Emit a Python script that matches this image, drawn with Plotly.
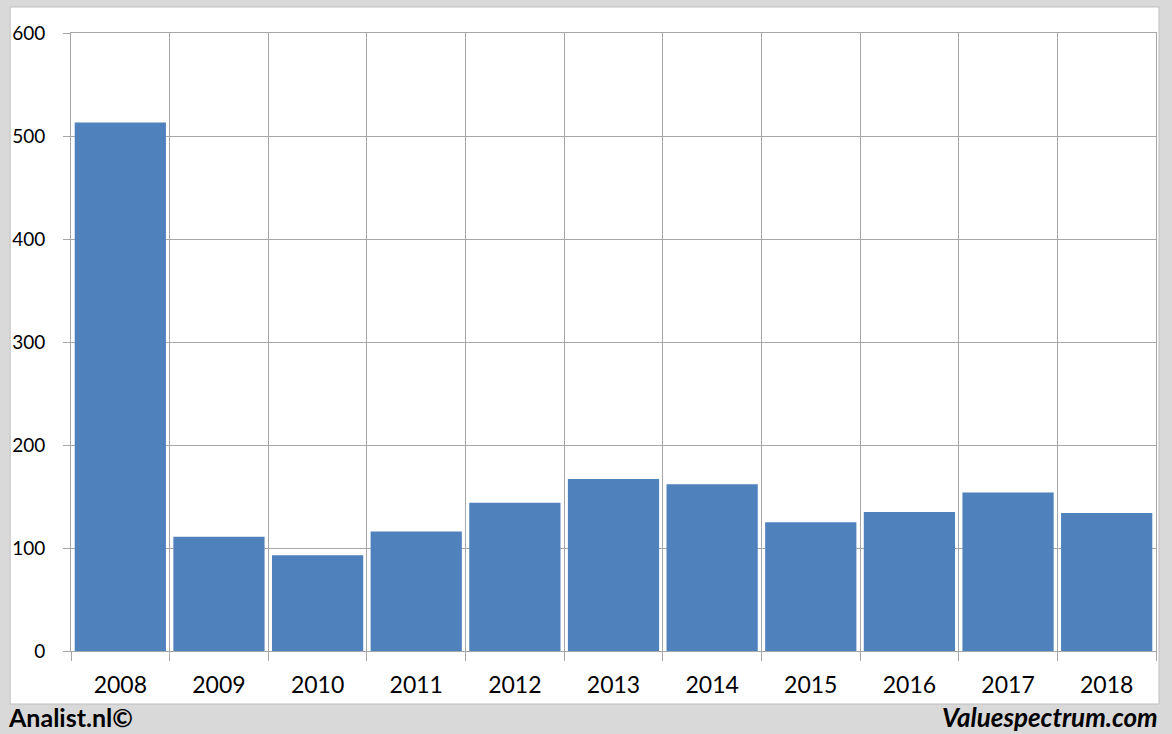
import plotly.graph_objects as go

years = ["2008", "2009", "2010", "2011", "2012", "2013", "2014", "2015", "2016", "2017", "2018"]
values = [513, 111, 93, 116, 144, 167, 162, 125, 135, 154, 134]
y_ticks = [0, 100, 200, 300, 400, 500, 600]

W, H = 1172, 734
L, R, T, B = 68, 1156, 33, 651
pw, ph = R - L, B - T

def px_x(x):
    return (x - L) / pw

def px_y(y):
    return (B - y) / ph

FONT = "Lato"
GRID = "#a6a6a6"

fig = go.Figure()
fig.add_trace(go.Bar(
    x=years, y=values,
    marker=dict(color="#4f81bd", line=dict(width=0)),
    hoverinfo="x+y",
))

fig.update_layout(
    width=W, height=H,
    margin=dict(l=L, r=W - R, t=T, b=H - B),
    paper_bgcolor="#d9d9d9",
    plot_bgcolor="#ffffff",
    bargap=0.075,
    showlegend=False,
    font=dict(family=FONT, size=20, color="#000000"),
    xaxis=dict(
        type="category",
        tickson="boundaries",
        showgrid=True, gridcolor=GRID, gridwidth=1,
        ticks="outside", ticklen=9, tickcolor=GRID,
        showline=True, linecolor=GRID, mirror=True,
        tickfont=dict(family=FONT, size=23, color="#000000"),
        ticklabelstandoff=13,
        range=[-0.5, 10.5],
    ),
    yaxis=dict(
        range=[0, 600],
        tickvals=y_ticks,
        showgrid=True, gridcolor=GRID, gridwidth=1,
        ticks="outside", ticklen=7, tickcolor=GRID,
        showline=True, linecolor=GRID, mirror=True,
        zeroline=False,
        tickfont=dict(family=FONT, size=19, color="#000000"),
        ticklabelstandoff=14,
    ),
    shapes=[
        dict(type="rect", xref="paper", yref="paper", layer="below",
             x0=px_x(7), x1=px_x(1159), y0=px_y(704), y1=px_y(7),
             fillcolor="#ffffff", line=dict(color="#bfbfbf", width=1)),
    ],
    annotations=[
        dict(text="<b>Analist.nl©</b>", xref="paper", yref="paper",
             x=px_x(3), y=px_y(717), xanchor="left", yanchor="middle",
             showarrow=False, font=dict(family=FONT, size=25, color="#000000")),
        dict(text="<b><i>Valuespectrum.com</i></b>", xref="paper", yref="paper",
             x=px_x(1160), y=px_y(717), xanchor="right", yanchor="middle",
             showarrow=False, font=dict(family=FONT, size=26, color="#000000")),
    ],
)

fig.write_html(
    "out.html",
    config={"displayModeBar": False},
    post_script="document.body.style.margin='0';document.body.style.padding='0';document.body.style.overflow='hidden';",
)
